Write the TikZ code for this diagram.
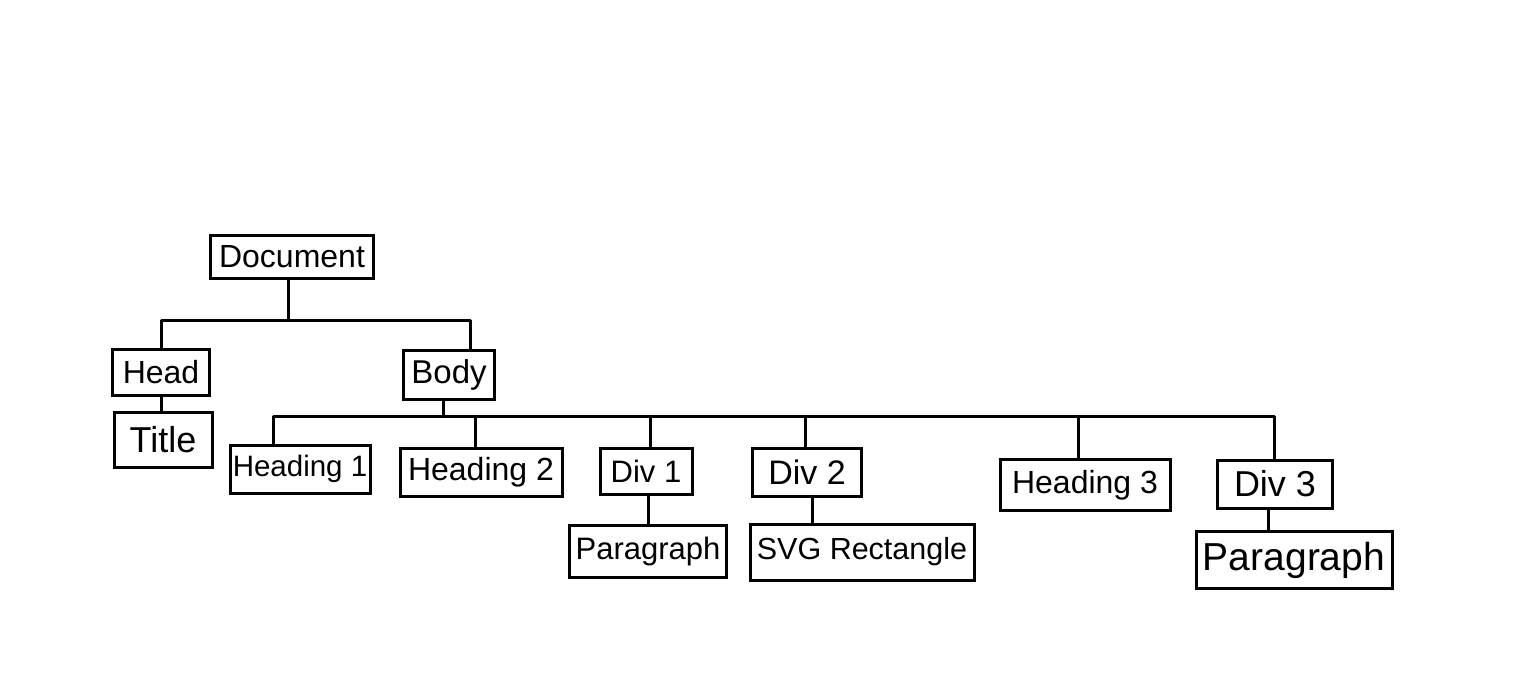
\documentclass[tikz,border=0pt]{standalone}
\usepackage{fontspec}
\setmainfont{Liberation Sans}
\begin{document}
\begin{tikzpicture}[x=1pt,y=-1pt,
  box/.style={draw=black, line width=3pt, inner sep=0pt, align=center, font=\fontsize{32}{36}\selectfont},
  link/.style={draw=black, line width=3pt, line cap=round, line join=round}]
\useasboundingbox[fill=white] (0,0) rectangle (1537,679);
% nodes
\node[box, minimum width=163pt, minimum height=43pt] (doc) at (292,257) {Document};
\node[box, minimum width=97pt, minimum height=46pt] (head) at (161,372) {Head};
\node[box, minimum width=98pt, minimum height=55pt, font=\fontsize{36}{40}\selectfont] (title) at (163,440) {Title};
\node[box, minimum width=91pt, minimum height=49pt, font=\fontsize{33}{38}\selectfont] (body) at (449,375) {Body};
\node[box, minimum width=140pt, minimum height=48pt, font=\fontsize{29.5}{34}\selectfont] (h1) at (300,469) {Heading 1};
\node[box, minimum width=162pt, minimum height=48pt] (h2) at (481,472) {Heading 2};
\node[box, minimum width=92pt, minimum height=46pt, font=\fontsize{31}{35}\selectfont] (d1) at (646,471) {Div 1};
\node[box, minimum width=109pt, minimum height=48pt, font=\fontsize{34}{38}\selectfont] (d2) at (807,472) {Div 2};
\node[box, minimum width=170pt, minimum height=51pt] (h3) at (1085,485) {Heading 3};
\node[box, minimum width=115pt, minimum height=48pt, font=\fontsize{36}{40}\selectfont] (d3) at (1275,484) {Div 3};
\node[box, minimum width=157pt, minimum height=52pt, font=\fontsize{31}{36}\selectfont] (p1) at (648,551) {Paragraph};
\node[box, minimum width=224pt, minimum height=56pt, font=\fontsize{30.5}{35}\selectfont] (svg) at (862,552) {SVG Rectangle};
\node[box, minimum width=196pt, minimum height=57pt, font=\fontsize{39}{44}\selectfont] (p2) at (1294,560) {Paragraph};
% junction coordinates
\coordinate (bar1) at (288,320);
\coordinate (bar2) at (443,416);
% Document -> Head, Body
\draw[link] ([xshift=-4pt]doc.south) -- (bar1);
\draw[link] (head.north) |- (bar1);
\draw[link] ([xshift=21pt]body.north) |- (bar1);
% Head -> Title
\draw[link] (head.south) -- (head.south |- title.north);
% Body -> children
\draw[link] ([xshift=-6pt]body.south) -- (bar2);
\draw[link] ([xshift=-27pt]h1.north) |- (bar2);
\draw[link] ([xshift=-6pt]h2.north) |- (bar2);
\draw[link] ([xshift=4pt]d1.north) |- (bar2);
\draw[link] ([xshift=-2pt]d2.north) |- (bar2);
\draw[link] ([xshift=-7pt]h3.north) |- (bar2);
\draw[link] ([xshift=-1pt]d3.north) |- (bar2);
% Div -> content
\draw[link] ([xshift=2pt]d1.south) -- ([xshift=2pt]d1.south |- p1.north);
\draw[link] ([xshift=5pt]d2.south) -- ([xshift=5pt]d2.south |- svg.north);
\draw[link] ([xshift=-7pt]d3.south) -- ([xshift=-7pt]d3.south |- p2.north);
\end{tikzpicture}
\end{document}
